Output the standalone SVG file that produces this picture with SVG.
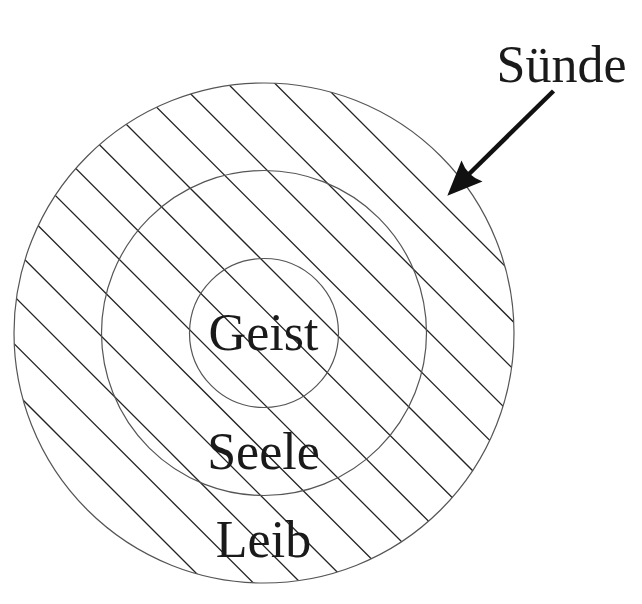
<svg xmlns="http://www.w3.org/2000/svg" width="642" height="604" viewBox="0 0 642 604">
<style>
.hatch{stroke:#222;stroke-width:1.3;fill:none}
.ring{stroke:#555;stroke-width:1.2;fill:none}
.lbl{font-family:"Liberation Serif","Times New Roman",serif;font-size:52px;fill:#1a1a1a;text-anchor:middle}
</style>
<defs>
<clipPath id="outerClip"><circle cx="264" cy="333" r="250"/></clipPath>
</defs>
<rect width="642" height="604" fill="#fff"/>
<g id="hatching" clip-path="url(#outerClip)" class="hatch">
<line x1="0" y1="-238.9" x2="642" y2="403.1"/>
<line x1="0" y1="-191.5" x2="642" y2="450.5"/>
<line x1="0" y1="-144.2" x2="642" y2="497.8"/>
<line x1="0" y1="-96.8" x2="642" y2="545.2"/>
<line x1="0" y1="-49.4" x2="642" y2="592.6"/>
<line x1="0" y1="-2.0" x2="642" y2="640.0"/>
<line x1="0" y1="45.3" x2="642" y2="687.3"/>
<line x1="0" y1="92.7" x2="642" y2="734.7"/>
<line x1="0" y1="140.1" x2="642" y2="782.1"/>
<line x1="0" y1="187.5" x2="642" y2="829.5"/>
<line x1="0" y1="234.8" x2="642" y2="876.8"/>
<line x1="0" y1="282.2" x2="642" y2="924.2"/>
<line x1="0" y1="329.6" x2="642" y2="971.6"/>
<line x1="0" y1="377.0" x2="642" y2="1019.0"/>
</g>
<g id="leib">
<circle class="ring" cx="264" cy="333" r="250"/>
<text class="lbl" x="263.5" y="557">Leib</text>
</g>
<g id="seele">
<circle class="ring" cx="264" cy="333" r="162.5"/>
<text class="lbl" x="263.5" y="469">Seele</text>
</g>
<g id="geist">
<circle class="ring" cx="264" cy="333" r="74.5"/>
<text class="lbl" x="263.5" y="350">Geist</text>
</g>
<g id="suende">
<text class="lbl" x="561.5" y="82">Sünde</text>
</g>
<g id="connectors">
<line x1="553.5" y1="91" x2="467" y2="176" stroke="#111" stroke-width="4.5"/>
<path d="M447.3 195.7 L461.5 160.5 Q467 176 482.5 181.5 Z" fill="#111"/>
</g>
</svg>
